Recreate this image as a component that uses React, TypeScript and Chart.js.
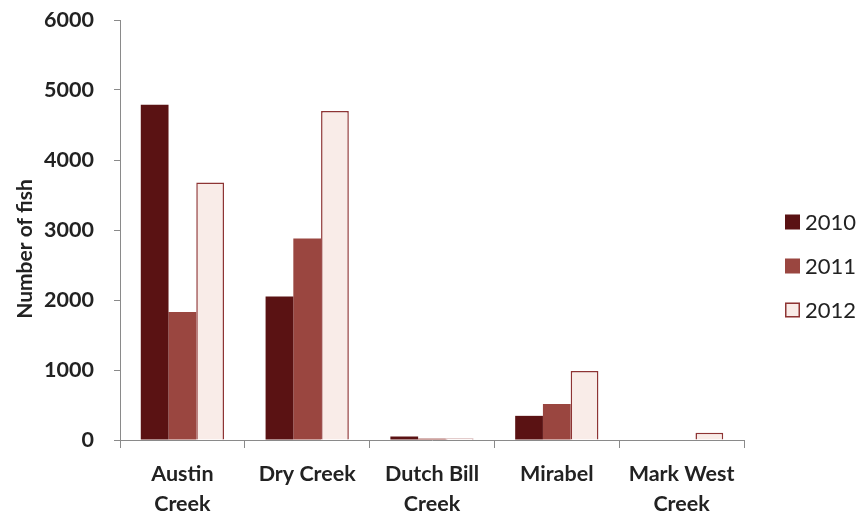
import React, { useEffect, useRef } from "react";
import { Chart, registerables } from "chart.js";

Chart.register(...registerables);

const categories: string[][] = [
  ["Austin", "Creek"],
  ["Dry Creek"],
  ["Dutch Bill", "Creek"],
  ["Mirabel"],
  ["Mark West", "Creek"],
];
const seriesNames = ["2010", "2011", "2012"];
const values2010 = [4790, 2050, 50, 345, 0];
const values2011 = [1830, 2880, 20, 515, 0];
const values2012 = [3680, 4700, 20, 985, 105];
const yTicks = [0, 1000, 2000, 3000, 4000, 5000, 6000];
const yTitle = "Number of fish";

const FONT = "Lato, 'Open Sans', sans-serif";

const legendPlugin = {
  id: "customLegend",
  afterDraw(chart: any) {
    const ctx = chart.ctx;
    ctx.save();
    chart.data.datasets.forEach((ds: any, i: number) => {
      const cy = 222 + i * 44;
      const bx = 785;
      ctx.fillStyle = ds.backgroundColor;
      ctx.fillRect(bx, cy - 7.5, 15, 15);
      if (ds.borderWidth > 0) {
        ctx.strokeStyle = ds.borderColor;
        ctx.lineWidth = 1.5;
        ctx.strokeRect(bx + 0.75, cy - 6.75, 13.5, 13.5);
      }
      ctx.fillStyle = "#222";
      ctx.font = `22px ${FONT}`;
      ctx.textBaseline = "middle";
      ctx.textAlign = "left";
      ctx.fillText(ds.label, 805, cy + 1);
    });
    // y-axis title
    ctx.translate(25, 249);
    ctx.rotate(-Math.PI / 2);
    ctx.fillStyle = "#222";
    ctx.font = `bold 21px ${FONT}`;
    ctx.textAlign = "center";
    ctx.textBaseline = "middle";
    ctx.fillText(yTitle, 0, 0);
    ctx.restore();
  },
};

export default function App() {
  const ref = useRef<HTMLCanvasElement | null>(null);
  useEffect(() => {
    if (!ref.current) return;
    const chart = new Chart(ref.current, {
      type: "bar",
      data: {
        labels: categories,
        datasets: [
          { label: seriesNames[0], data: values2010, backgroundColor: "#5a1213", borderColor: "#5a1213", borderWidth: 0 },
          { label: seriesNames[1], data: values2011, backgroundColor: "#9a4640", borderColor: "#9a4640", borderWidth: 0 },
          { label: seriesNames[2], data: values2012, backgroundColor: "#f9ece8", borderColor: "#8e3434", borderWidth: 1.5 },
        ],
      },
      options: {
        responsive: false,
        animation: false,
        layout: { padding: { top: 20, right: 117, left: 0, bottom: 0 } },
        plugins: { legend: { display: false }, tooltip: { enabled: false } },
        datasets: { bar: { categoryPercentage: 0.667, barPercentage: 1 } },
        scales: {
          x: {
            grid: { display: true, drawOnChartArea: false, drawTicks: true, tickLength: 8, color: "#8a8a8a", offset: true },
            border: { color: "#8a8a8a", width: 1 },
            ticks: { color: "#222", font: { family: FONT, size: 21.5, weight: "bold", lineHeight: 1.4 }, padding: 11, maxRotation: 0, autoSkip: false },
            afterFit: (s: any) => { s.height = 74; s.paddingLeft = 0; s.paddingRight = 0; },
          },
          y: {
            min: 0,
            max: 6000,
            afterBuildTicks: (s: any) => { s.ticks = yTicks.map((v) => ({ value: v })); },
            grid: { display: true, drawOnChartArea: false, drawTicks: true, tickLength: 6, color: "#8a8a8a" },
            border: { color: "#8a8a8a", width: 1 },
            ticks: { color: "#222", font: { family: FONT, size: 21.5, weight: "bold" }, padding: 20, callback: (v: any) => String(v) },
            title: { display: false },
            afterFit: (s: any) => { s.width = 120; s.paddingTop = 0; s.paddingBottom = 0; },
          },
        },
      },
      plugins: [legendPlugin],
    } as any);
    return () => chart.destroy();
  }, []);
  return (
    <div style={{ position: "absolute", left: 0, top: 0, width: 861, height: 514, background: "#fff" }}>
      <canvas ref={ref} width={861} height={514} />
    </div>
  );
}
